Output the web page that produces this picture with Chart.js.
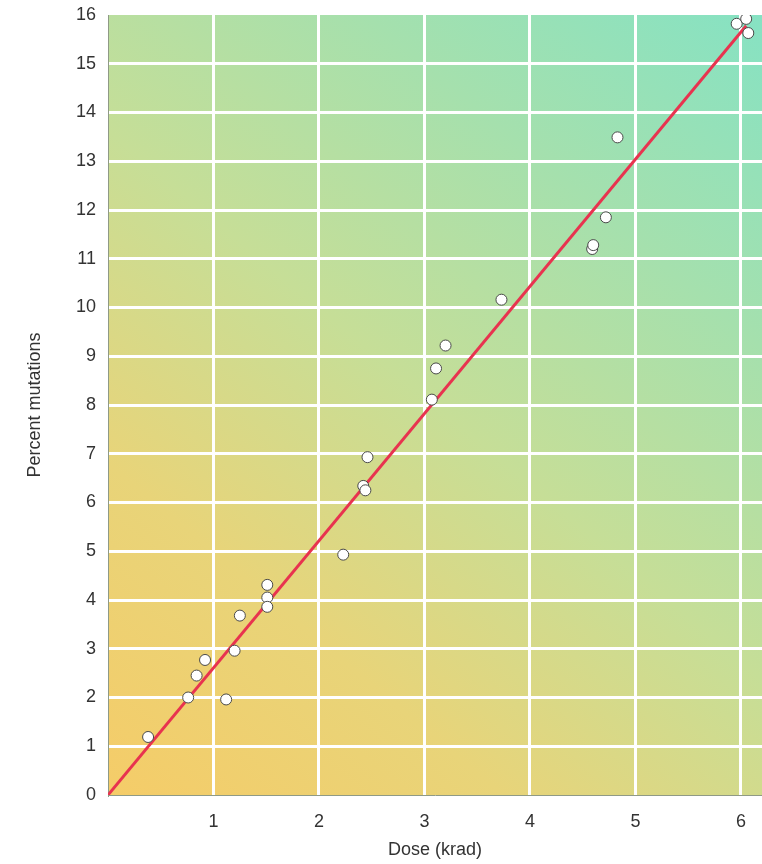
<!DOCTYPE html>
<html>
<head>
<meta charset="utf-8">
<script src="https://cdn.jsdelivr.net/npm/chart.js@4/dist/chart.umd.min.js"></script>
<style>
html,body{margin:0;padding:0;background:#fff;overflow:hidden;}
#wrap{width:762px;height:864px;position:relative;}
</style>
</head>
<body>
<div id="wrap"><canvas id="c" width="762" height="864"></canvas></div>
<script>
// Data
const doseKrad = [0.38, 0.76, 0.84, 0.92, 1.12, 1.20, 1.25, 1.51, 1.51, 1.51, 2.23, 2.42, 2.44, 2.46, 3.07, 3.11, 3.20, 3.73, 4.59, 4.60, 4.72, 4.83, 5.96, 6.05, 6.07];
const percentMutations = [1.19, 2.00, 2.45, 2.77, 1.96, 2.96, 3.68, 4.31, 4.05, 3.86, 4.93, 6.34, 6.25, 6.93, 8.11, 8.75, 9.22, 10.16, 11.20, 11.28, 11.85, 13.49, 15.82, 15.92, 15.63];
const fitDose = [0, 6.05];
const fitPercent = [0, 15.78];
const xTicks = [0, 1, 2, 3, 4, 5, 6];
const yTicks = [0, 1, 2, 3, 4, 5, 6, 7, 8, 9, 10, 11, 12, 13, 14, 15, 16];

const scatterPts = doseKrad.map((x, i) => ({x: x, y: percentMutations[i]}));
const linePts = fitDose.map((x, i) => ({x: x, y: fitPercent[i]}));

const bgPlugin = {
  id: 'bgGradient',
  beforeDraw(chart) {
    const {ctx, chartArea: a} = chart;
    const g = ctx.createLinearGradient(a.left, a.bottom, a.right, a.top);
    g.addColorStop(0, '#f5cc68');
    g.addColorStop(0.25, '#e8d479');
    g.addColorStop(0.5, '#c6de97');
    g.addColorStop(0.75, '#a5e0ad');
    g.addColorStop(1, '#86e2c3');
    ctx.save();
    ctx.fillStyle = g;
    ctx.fillRect(a.left, a.top, a.right - a.left, a.bottom - a.top);
    ctx.restore();
  }
};

const FONT = "'Liberation Sans', Arial, sans-serif";

new Chart(document.getElementById('c'), {
  type: 'scatter',
  data: {
    datasets: [
      {
        type: 'line',
        data: linePts,
        borderColor: '#e8334f',
        borderWidth: 3,
        pointRadius: 0,
        fill: false,
        order: 2
      },
      {
        type: 'scatter',
        data: scatterPts,
        backgroundColor: '#ffffff',
        borderColor: '#4a4a4a',
        borderWidth: 1,
        pointRadius: 5.5,
        order: 1
      }
    ]
  },
  plugins: [bgPlugin],
  options: {
    responsive: false,
    animation: false,
    devicePixelRatio: 1,
    layout: {autoPadding: false, padding: {top: 15, right: 0, left: 0, bottom: 0}},
    plugins: {legend: {display: false}, tooltip: {enabled: false}},
    scales: {
      x: {
        type: 'linear',
        min: 0,
        max: 6.2,
        afterBuildTicks(axis) { axis.ticks = xTicks.map(v => ({value: v})); },
        afterFit(axis) { axis.height = 69; axis.paddingLeft = 0; axis.paddingRight = 0; },
        ticks: {
          color: '#333',
          font: {family: FONT, size: 18},
          padding: 16,
          maxRotation: 0,
          callback: (v) => (v === 0 ? '' : String(v))
        },
        grid: {
          color: (c) => (c.tick && c.tick.value === 0 ? 'rgba(0,0,0,0)' : '#ffffff'),
          lineWidth: 3,
          drawTicks: false
        },
        border: {display: true, color: '#8f9a86', width: 1},
        title: {
          display: true,
          text: 'Dose (krad)',
          color: '#333',
          font: {family: FONT, size: 18},
          padding: {top: 0, bottom: 3}
        }
      },
      y: {
        type: 'linear',
        min: 0,
        max: 16,
        afterBuildTicks(axis) { axis.ticks = yTicks.map(v => ({value: v})); },
        afterFit(axis) { axis.width = 108; axis.paddingTop = 0; axis.paddingBottom = 0; },
        ticks: {
          color: '#333',
          font: {family: FONT, size: 18},
          padding: 12
        },
        grid: {
          color: (c) => (c.tick && (c.tick.value === 0 || c.tick.value === 16) ? 'rgba(0,0,0,0)' : '#ffffff'),
          lineWidth: 3,
          drawTicks: false
        },
        border: {display: true, color: '#8f9a86', width: 1},
        title: {
          display: true,
          text: 'Percent mutations',
          color: '#333',
          font: {family: FONT, size: 18},
          padding: {top: 24, bottom: 0}
        }
      }
    }
  }
});
</script>
</body>
</html>
